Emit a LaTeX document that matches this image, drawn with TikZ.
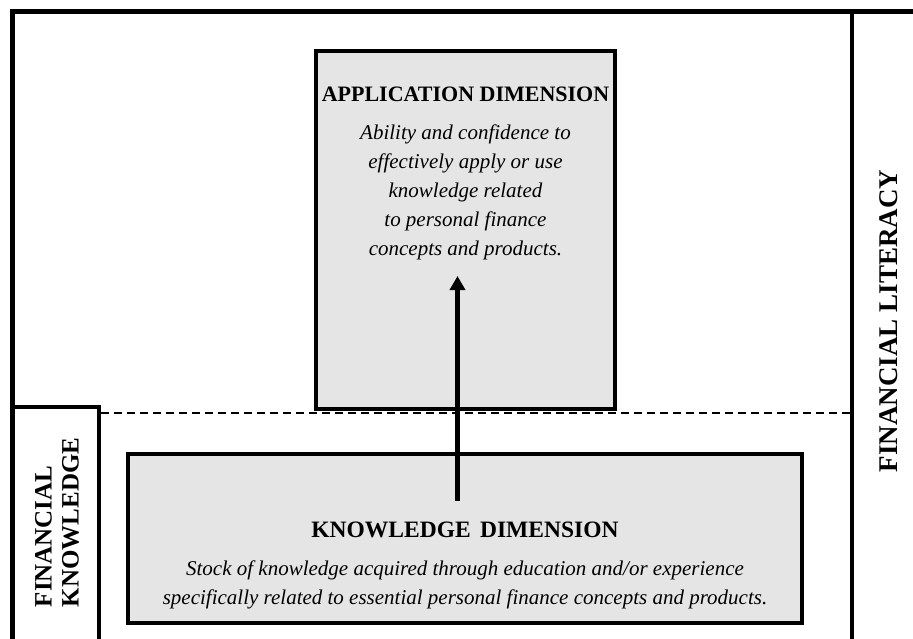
\documentclass[tikz,border=0pt]{standalone}
\usepackage{fontspec}
\setmainfont{Liberation Serif}
\usetikzlibrary{arrows.meta}

\tikzset{
    frameline/.style={line width=4.5pt},
    dimbox/.style={draw, line width=4pt, fill=black!10, inner sep=0pt},
    dimtitle/.style={font=\fontsize{22}{26}\selectfont\bfseries},
    dimtext/.style={font=\fontsize{21}{29}\selectfont\itshape, align=center},
    sidelabel/.style={font=\fontsize{25}{27}\selectfont\bfseries, rotate=90}
}

\begin{document}
\begin{tikzpicture}[x=1pt, y=-1pt]
        \useasboundingbox (0,0) rectangle (913,639);
        % Draw the outer frame
        \draw[frameline] (12.5,639) -- (12.5,11.5) -- (913,11.5);
        \draw[frameline] (852,11.5) -- (852,639);
        % knowledge side box
        \draw[frameline] (12.5,407) -- (99,407) -- (99,639);
        % dashed split
        \draw[line width=2pt, dash pattern=on 8pt off 5pt] (101,412.5) -- (850,412.5);

        % Draw the two dimension boxes
        \node[dimbox, minimum width=299pt, minimum height=358pt] (app) at (465.5,230.2) {};
        \node[dimbox, minimum width=673.5pt, minimum height=169pt] (know) at (464.8,538.5) {};

        % box texts
        \node[dimtitle, anchor=base] (apptitle) at (465.5,101.7) {APPLICATION DIMENSION};
        \node[dimtext] (apptext) at (465.5,192) {Ability and confidence to\\effectively apply or use\\knowledge related\\to personal finance\\concepts and products.};
        \node[dimtitle, font=\fontsize{23.5}{26}\selectfont\bfseries, anchor=base] (knowtitle) at (465,537) {KNOWLEDGE\hspace{0.4em}DIMENSION};
        \node[dimtext] (knowtext) at (465,585) {Stock of knowledge acquired through education and/or experience\\specifically related to essential personal finance concepts and products.};

        % side labels
        \node[sidelabel, font=\fontsize{27}{29}\selectfont\bfseries] (litlabel) at (888.5,321) {FINANCIAL LITERACY};
        \node[sidelabel, align=left] (knowlabel) at (57,522.5) {FINANCIAL\\KNOWLEDGE};

        % Draw the arrow
        \coordinate (arrowtail) at (457.5,501);
        \coordinate (arrowhead) at (457.5,276);
        \draw[line width=4.5pt, -{Triangle[length=14pt, width=15pt]}] (arrowtail) -- (arrowhead);
    \end{tikzpicture}
\end{document}
